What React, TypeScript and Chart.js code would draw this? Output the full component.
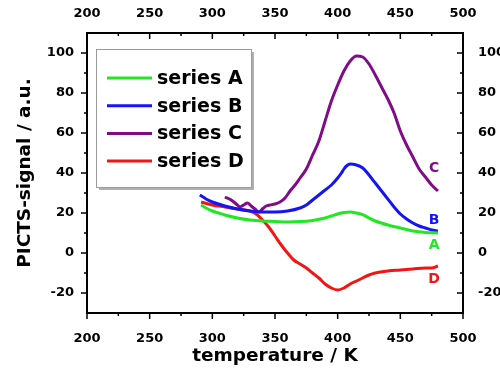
import React, { useEffect, useRef } from "react";
import { Chart, registerables } from "chart.js";

Chart.register(...registerables);

// ---- data ----
const seriesNames = ["series A", "series B", "series C", "series D"];
const seriesColors = ["#22e822", "#1414f5", "#800c88", "#f51414"];

const tempsA = [291, 295, 300, 305, 310, 320, 330, 340, 350, 360, 370, 380, 390, 395, 400, 405, 410, 415, 420, 425, 430, 440, 450, 460, 470, 480];
const valuesA = [24, 22.5, 21, 20, 19, 17.5, 16.5, 16, 15.8, 15.5, 15.7, 16.3, 17.5, 18.5, 19.5, 20.2, 20.5, 20, 19.2, 17.5, 16, 14, 12.5, 11, 10.3, 10];

const tempsB = [290, 295, 300, 310, 320, 330, 340, 350, 360, 370, 375, 380, 385, 390, 395, 400, 403, 405, 407, 410, 415, 420, 425, 430, 435, 440, 445, 450, 455, 460, 465, 470, 475, 480];
const valuesB = [29, 27, 25.5, 23.5, 22, 21, 20.5, 20.5, 21, 22.5, 24, 26.5, 29, 31.5, 34, 37.5, 40, 42, 43.5, 44.5, 44, 42.5, 39, 35, 31, 27, 23, 19.5, 17, 15, 13.5, 12.5, 11.5, 11];

const tempsC = [310, 315, 320, 322, 325, 328, 331, 334, 337, 340, 343, 346, 350, 354, 358, 362, 366, 370, 375, 380, 385, 390, 395, 400, 405, 410, 415, 420, 425, 430, 435, 440, 445, 450, 455, 460, 465, 470, 475, 480];
const valuesC = [28, 26.5, 24, 23, 24, 25, 23.5, 22, 20.5, 22, 23.5, 24, 24.5, 25.5, 27.5, 31, 34, 37.5, 42, 49, 56, 66, 76, 84, 91, 96, 98.5, 98, 94.5, 89, 83, 77, 70, 61, 54, 48, 42, 38, 34, 31];

const tempsD = [291, 300, 310, 320, 330, 335, 340, 345, 350, 355, 360, 365, 370, 375, 380, 385, 390, 395, 400, 405, 410, 415, 420, 425, 430, 440, 450, 460, 470, 475, 480];
const valuesD = [25.5, 24, 23, 22, 21, 19.5, 16.5, 13, 8.5, 4, 0, -3.5, -5.5, -7.5, -10, -12.5, -15.5, -17.5, -18.5, -17.5, -15.5, -14, -12.5, -11, -10, -9, -8.5, -8, -7.5, -7.5, -6.5];

const xTickValues = [200, 250, 300, 350, 400, 450, 500];
const yTickValues = [-20, 0, 20, 40, 60, 80, 100];
const xMin = 200, xMax = 500, yMin = -30, yMax = 110;

const endLabels = ["A", "B", "C", "D"];
const endLabelTemps = [477, 477, 477, 477];
const endLabelValues = [4, 16.5, 42.5, -13];

const xTitle = "temperature / K";
const yTitle = "PICTS-signal / a.u.";

const FONT = "'DejaVu Sans', sans-serif";

const zip = (t: number[], v: number[]) => t.map((x, i) => ({ x, y: v[i] }));

const decorPlugin = {
  id: "decor",
  afterDraw(chart: any) {
    const ctx = chart.ctx as CanvasRenderingContext2D;
    const { left, right, top, bottom } = chart.chartArea;
    const xs = chart.scales.x;
    const ys = chart.scales.y;
    const major = 6;
    const minor = 3;
    ctx.save();
    ctx.strokeStyle = "#000";
    ctx.lineWidth = 1.5;
    const seg = (x1: number, y1: number, x2: number, y2: number) => {
      ctx.beginPath();
      ctx.moveTo(x1, y1);
      ctx.lineTo(x2, y2);
      ctx.stroke();
    };
    xTickValues.forEach((v, i) => {
      const px = xs.getPixelForValue(v);
      seg(px, bottom, px, bottom + major);
      seg(px, top, px, top + major);
      if (i < xTickValues.length - 1) {
        const m = xs.getPixelForValue((v + xTickValues[i + 1]) / 2);
        seg(m, bottom, m, bottom + minor);
        seg(m, top, m, top + minor);
      }
    });
    const yAll = [yTickValues[0] - 10, ...yTickValues];
    yAll.forEach((v, i) => {
      const py = ys.getPixelForValue(v);
      if (yTickValues.includes(v)) {
        seg(left, py, left - major, py);
        seg(right, py, right - major, py);
      }
      if (i < yAll.length - 1 || v + 10 < yMax) {
        const mv = v + 10;
        if (!yTickValues.includes(mv) && mv < yMax && mv > yMin) {
          const m = ys.getPixelForValue(mv);
          seg(left, m, left - minor, m);
          seg(right, m, right - minor, m);
        }
      }
    });

    // legend box
    const bx = 96, by = 49, bw = 155, bh = 138;
    ctx.fillStyle = "#b0b0b0";
    ctx.fillRect(bx + 3, by + 3, bw, bh);
    ctx.fillStyle = "#ffffff";
    ctx.fillRect(bx, by, bw, bh);
    ctx.strokeStyle = "#9a9a9a";
    ctx.lineWidth = 1;
    ctx.strokeRect(bx + 0.5, by + 0.5, bw, bh);
    ctx.font = `bold 19px ${FONT}`;
    ctx.textBaseline = "middle";
    ctx.textAlign = "left";
    chart.data.datasets.forEach((ds: any, i: number) => {
      const y = 78 + i * 27.7;
      ctx.strokeStyle = ds.borderColor;
      ctx.lineWidth = 3;
      seg(107, y, 152, y);
      ctx.fillStyle = "#000";
      ctx.fillText(ds.label, 157, y + 1);
    });

    // end labels
    ctx.font = `bold 14px ${FONT}`;
    ctx.textAlign = "center";
    endLabels.forEach((t, i) => {
      ctx.fillStyle = seriesColors[i];
      ctx.fillText(t, xs.getPixelForValue(endLabelTemps[i]), ys.getPixelForValue(endLabelValues[i]));
    });
    ctx.restore();
  },
};

export default function App() {
  const ref = useRef<HTMLCanvasElement | null>(null);
  useEffect(() => {
    if (!ref.current) return;
    const tickFont = { family: FONT, size: 13, weight: "bold" as const };
    const titleFont = { family: FONT, size: 18.5, weight: "bold" as const };
    const border = { display: true, color: "#000", width: 2 };
    const setTicks = (vals: number[]) => (scale: any) => {
      scale.ticks = vals.map((v) => ({ value: v }));
    };
    const chart = new Chart(ref.current, {
      type: "line",
      data: {
        datasets: [
          { label: seriesNames[0], data: zip(tempsA, valuesA) },
          { label: seriesNames[1], data: zip(tempsB, valuesB) },
          { label: seriesNames[2], data: zip(tempsC, valuesC) },
          { label: seriesNames[3], data: zip(tempsD, valuesD) },
        ].map((d, i) => ({
          ...d,
          borderColor: seriesColors[i],
          backgroundColor: seriesColors[i],
          borderWidth: 3,
          pointRadius: 0,
          fill: false,
          cubicInterpolationMode: "monotone" as const,
          xAxisID: "x",
          yAxisID: "y",
        })),
      },
      options: {
        animation: false,
        responsive: false,
        layout: { padding: 0 },
        plugins: { legend: { display: false }, tooltip: { enabled: false } },
        scales: {
          x: {
            type: "linear",
            position: "bottom",
            min: xMin,
            max: xMax,
            afterBuildTicks: setTicks(xTickValues),
            afterFit: (s: any) => { s.height = 65; },
            grid: { display: false },
            border,
            ticks: { font: tickFont, color: "#000", padding: 10, maxRotation: 0 },
            title: { display: true, text: xTitle, font: titleFont, color: "#000", padding: { top: 0, bottom: 11 } },
          },
          x2: {
            type: "linear",
            position: "top",
            min: xMin,
            max: xMax,
            afterBuildTicks: setTicks(xTickValues),
            afterFit: (s: any) => { s.height = 33; },
            grid: { display: false },
            border,
            ticks: { font: tickFont, color: "#000", padding: 4, maxRotation: 0 },
          },
          y: {
            type: "linear",
            position: "left",
            min: yMin,
            max: yMax,
            afterBuildTicks: setTicks(yTickValues),
            afterFit: (s: any) => { s.width = 87; },
            grid: { display: false },
            border,
            ticks: { font: tickFont, color: "#000", padding: 5 },
            title: { display: true, text: yTitle, font: titleFont, color: "#000", padding: { top: 14, bottom: 0 } },
          },
          y2: {
            type: "linear",
            position: "right",
            min: yMin,
            max: yMax,
            afterBuildTicks: setTicks(yTickValues),
            afterFit: (s: any) => { s.width = 37; },
            grid: { display: false },
            border,
            ticks: { font: tickFont, color: "#000", padding: 7 },
          },
        },
      },
      plugins: [decorPlugin],
    });
    return () => chart.destroy();
  }, []);
  return (
    <div style={{ position: "fixed", left: 0, top: 0, width: 500, height: 378, background: "#fff" }}>
      <canvas ref={ref} width={500} height={378} style={{ display: "block" }} />
    </div>
  );
}
